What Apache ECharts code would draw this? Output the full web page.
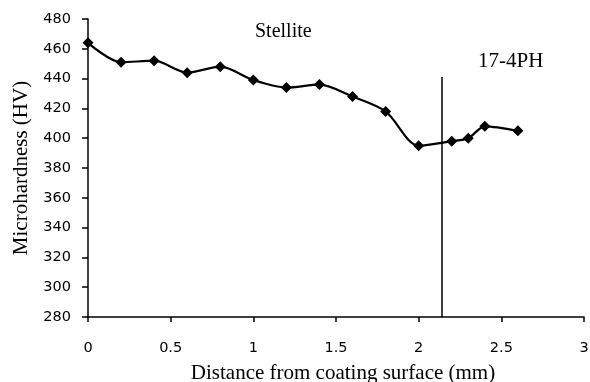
<!DOCTYPE html>
<html>
<head>
<meta charset="utf-8">
<script src="https://cdn.jsdelivr.net/npm/echarts@6/dist/echarts.min.js"></script>
<style>html,body{margin:0;padding:0;background:#fff}#main{width:590px;height:382px}</style>
</head>
<body>
<div id="main"></div>
<script>
// distance (mm) and microhardness (HV)
var distance = [0, 0.2, 0.4, 0.6, 0.8, 1.0, 1.2, 1.4, 1.6, 1.8, 2.0, 2.2, 2.3, 2.4, 2.6];
var hardness = [464, 451, 452, 444, 448, 439, 434, 436, 428, 418, 395, 398, 400, 408, 405];
var interfaceX = 2.14;
var interfaceTop = 441;
var yTicks = [280, 300, 320, 340, 360, 380, 400, 420, 440, 460, 480];

var myChart = echarts.init(document.getElementById('main'));
var pts = distance.map(function (d, i) { return [d, hardness[i]]; });

myChart.setOption({
    backgroundColor: '#fff',
    animation: false,
    grid: { left: 88, right: 6, top: 19, bottom: 65, outerBoundsMode: 'none', containLabel: false },
    xAxis: {
        type: 'value', min: 0, max: 3, interval: 0.5,
        axisLine: { lineStyle: { color: '#000', width: 1.5 } },
        axisTick: { show: true, length: 5, lineStyle: { color: '#000', width: 1.5 } },
        axisLabel: { color: '#000', fontFamily: 'DejaVu Sans', fontSize: 14.5, margin: 24 },
        splitLine: { show: false },
        name: 'Distance from coating surface (mm)',
        nameLocation: 'middle', nameGap: 46,
        nameTextStyle: { color: '#000', fontFamily: 'Liberation Serif', fontSize: 21, padding: [0, 0, 0, 14] }
    },
    yAxis: {
        type: 'value', min: yTicks[0], max: yTicks[yTicks.length - 1], interval: 20,
        axisLine: { show: true, lineStyle: { color: '#000', width: 1.5 } },
        axisTick: { show: true, length: 6, lineStyle: { color: '#000', width: 1.5 } },
        axisLabel: { color: '#000', fontFamily: 'DejaVu Sans', fontSize: 14.5, margin: 17 },
        splitLine: { show: false },
        name: 'Microhardness (HV)',
        nameLocation: 'middle', nameGap: 56,
        nameTextStyle: { color: '#000', fontFamily: 'Liberation Serif', fontSize: 21 }
    },
    graphic: [
        { type: 'text', left: 255, top: 22, style: { text: 'Stellite', fontFamily: 'Liberation Serif', fontSize: 20, fill: '#000' } },
        { type: 'text', left: 478, top: 51, style: { text: '17-4PH', fontFamily: 'Liberation Serif', fontSize: 21, fill: '#000' } }
    ],
    series: [{
        type: 'line',
        data: pts,
        smooth: 0.3,
        symbol: 'diamond',
        symbolSize: 11,
        itemStyle: { color: '#000' },
        lineStyle: { color: '#000', width: 2.2 },
        markLine: {
            silent: true,
            symbol: 'none',
            label: { show: false },
            lineStyle: { color: '#000', width: 1.5, type: 'solid' },
            data: [[{ coord: [interfaceX, yTicks[0]] }, { coord: [interfaceX, interfaceTop] }]]
        }
    }]
});
</script>
</body>
</html>
